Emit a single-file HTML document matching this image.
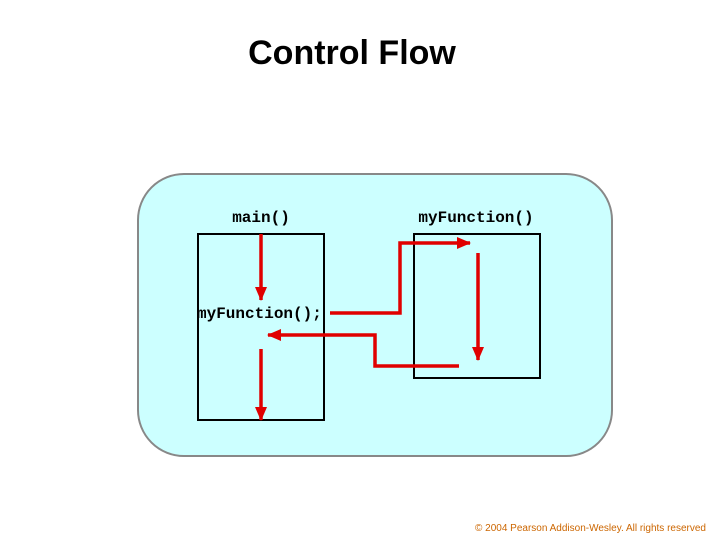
<!DOCTYPE html>
<html><head><meta charset="utf-8"><style>
html,body{margin:0;padding:0;background:#fff;}
body{width:720px;height:540px;overflow:hidden;}
</style></head><body>
<svg width="720" height="540" xmlns="http://www.w3.org/2000/svg">
<defs><marker id="a" markerWidth="14" markerHeight="12" refX="13" refY="6" orient="auto" markerUnits="userSpaceOnUse"><path d="M0,0 L14,6 L0,12 Z" fill="#e00000"/></marker></defs>
<text x="352" y="64" text-anchor="middle" font-family="Liberation Sans, sans-serif" font-weight="bold" font-size="34">Control Flow</text>
<rect x="138" y="174" width="474" height="282" rx="46" ry="46" fill="#ccffff" stroke="#888" stroke-width="2"/>
<rect x="198" y="234" width="126" height="186" fill="none" stroke="#000" stroke-width="2"/>
<rect x="414" y="234" width="126" height="144" fill="none" stroke="#000" stroke-width="2"/>
<g font-family="Liberation Mono, monospace" font-weight="bold" font-size="16">
<text x="261" y="222" text-anchor="middle">main()</text>
<text x="476" y="222" text-anchor="middle">myFunction()</text>
<text x="197" y="318">myFunction();</text>
</g>
<g stroke="#e00000" stroke-width="3.5" fill="none" marker-end="url(#a)">
<line x1="261" y1="234" x2="261" y2="300"/>
<polyline points="330,313 400,313 400,243 470,243"/>
<line x1="478" y1="253" x2="478" y2="360"/>
<polyline points="459,366 375,366 375,335 268,335"/>
<line x1="261" y1="349" x2="261" y2="420"/>
</g>
<text x="706" y="531" text-anchor="end" font-family="Liberation Sans, sans-serif" font-size="10" fill="#cc6600">© 2004 Pearson Addison-Wesley. All rights reserved</text>
</svg>
</body></html>
